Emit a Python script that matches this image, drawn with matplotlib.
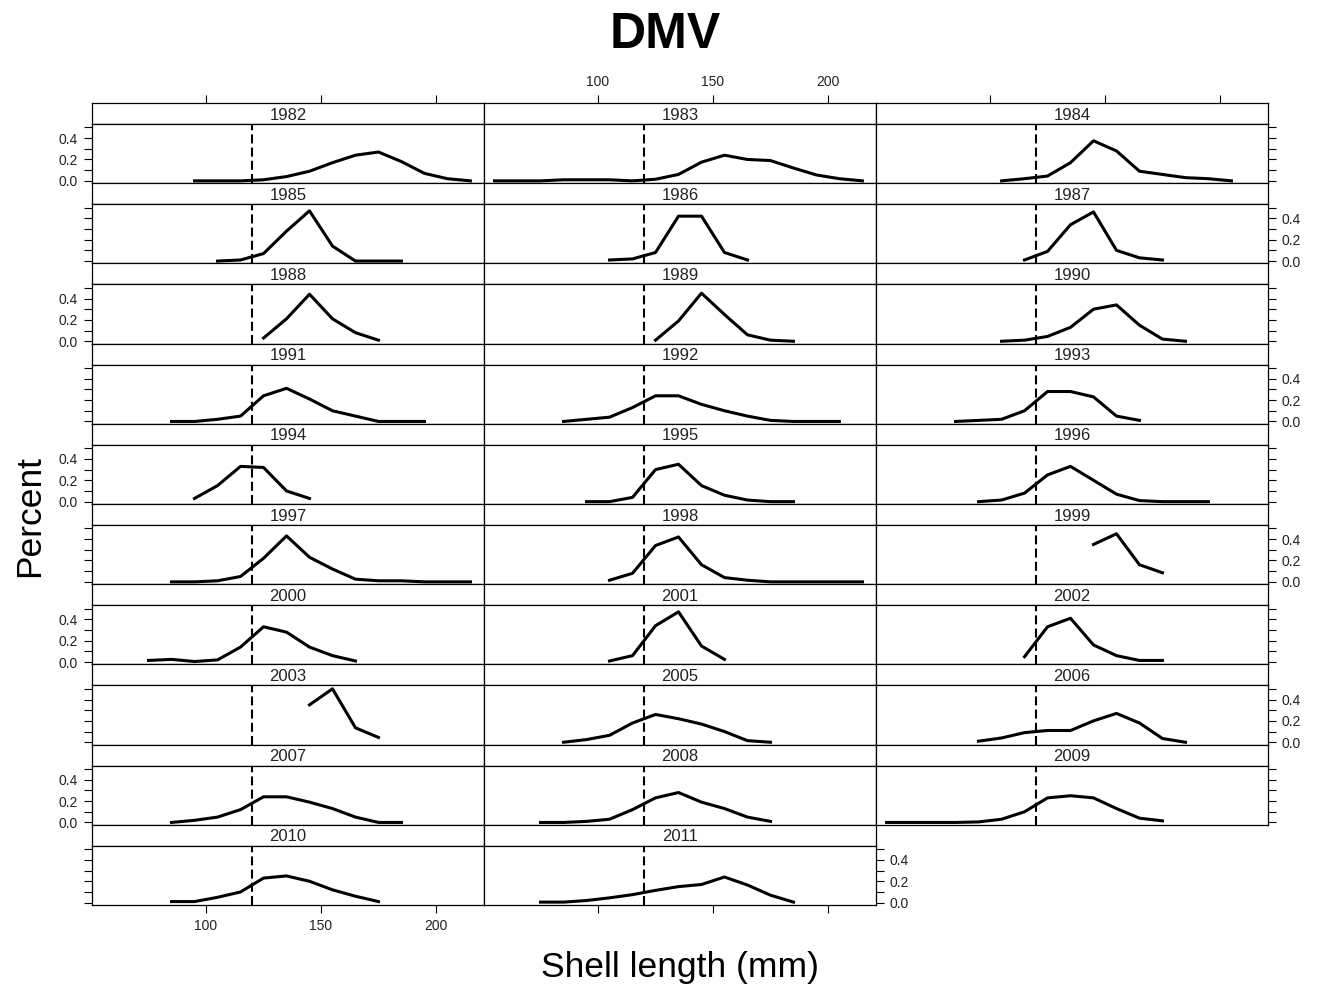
import matplotlib.pyplot as plt

plt.rcParams['font.family'] = ['Liberation Sans', 'DejaVu Sans']
plt.rcParams['lines.scale_dashes'] = False

# size-class midpoints (mm)
bins = [55, 65, 75, 85, 95, 105, 115, 125, 135, 145, 155, 165, 175, 185, 195, 205, 215]

# proportion of catch per size class, one list per survey year
p1982 = [0.0, 0.0, 0.0, 0.01, 0.04, 0.09, 0.17, 0.24, 0.27, 0.18, 0.07, 0.02, 0.0]
p1983 = [0.0, 0.0, 0.0, 0.01, 0.01, 0.01, 0.0, 0.015, 0.06, 0.175, 0.24, 0.2, 0.19, 0.12, 0.055, 0.02, 0.0]
p1984 = [0.0, 0.02, 0.045, 0.17, 0.375, 0.28, 0.09, 0.06, 0.03, 0.02, 0.0]
p1985 = [0.0, 0.01, 0.07, 0.28, 0.47, 0.14, 0.0, 0.0, 0.0]
p1986 = [0.01, 0.02, 0.08, 0.42, 0.42, 0.08, 0.01]
p1987 = [0.01, 0.09, 0.34, 0.46, 0.1, 0.03, 0.01]
p1988 = [0.03, 0.21, 0.44, 0.21, 0.08, 0.01]
p1989 = [0.01, 0.19, 0.45, 0.25, 0.06, 0.01, 0.0]
p1990 = [0.0, 0.01, 0.045, 0.13, 0.3, 0.34, 0.15, 0.02, 0.0]
p1991 = [0.0, 0.0, 0.02, 0.05, 0.24, 0.31, 0.21, 0.1, 0.05, 0.0, 0.0, 0.0]
p1992 = [0.0, 0.02, 0.04, 0.13, 0.24, 0.24, 0.16, 0.1, 0.05, 0.01, 0.0, 0.0, 0.0]
p1993 = [0.0, 0.01, 0.02, 0.1, 0.28, 0.28, 0.23, 0.05, 0.01]
p1994 = [0.03, 0.15, 0.33, 0.32, 0.1, 0.03]
p1995 = [0.0, 0.0, 0.04, 0.3, 0.35, 0.15, 0.06, 0.015, 0.0, 0.0]
p1996 = [0.0, 0.015, 0.08, 0.25, 0.33, 0.2, 0.07, 0.01, 0.0, 0.0, 0.0]
p1997 = [0.0, 0.0, 0.01, 0.05, 0.22, 0.43, 0.23, 0.12, 0.025, 0.01, 0.01, 0.0, 0.0, 0.0]
p1998 = [0.015, 0.08, 0.34, 0.42, 0.16, 0.04, 0.015, 0.0, 0.0, 0.0, 0.0, 0.0]
p1999 = [0.35, 0.45, 0.16, 0.085]
p2000 = [0.015, 0.025, 0.005, 0.02, 0.14, 0.33, 0.28, 0.14, 0.06, 0.01]
p2001 = [0.01, 0.06, 0.34, 0.47, 0.15, 0.025]
p2002 = [0.05, 0.33, 0.41, 0.16, 0.06, 0.015, 0.015]
p2003 = [0.35, 0.5, 0.135, 0.045]
p2005 = [0.0, 0.025, 0.065, 0.18, 0.26, 0.22, 0.17, 0.1, 0.015, 0.0]
p2006 = [0.01, 0.04, 0.09, 0.11, 0.11, 0.2, 0.27, 0.18, 0.035, 0.0]
p2007 = [0.0, 0.02, 0.05, 0.12, 0.24, 0.24, 0.19, 0.13, 0.05, 0.0, 0.0]
p2008 = [0.0, 0.0, 0.01, 0.03, 0.12, 0.23, 0.28, 0.19, 0.13, 0.05, 0.01]
p2009 = [0.0, 0.0, 0.0, 0.0, 0.005, 0.03, 0.1, 0.23, 0.25, 0.23, 0.13, 0.04, 0.015]
p2010 = [0.01, 0.01, 0.05, 0.1, 0.23, 0.25, 0.2, 0.12, 0.06, 0.01]
p2011 = [0.005, 0.005, 0.02, 0.045, 0.075, 0.115, 0.15, 0.17, 0.24, 0.165, 0.07, 0.005]

years = ['1982', '1983', '1984', '1985', '1986', '1987', '1988', '1989', '1990',
         '1991', '1992', '1993', '1994', '1995', '1996', '1997', '1998', '1999',
         '2000', '2001', '2002', '2003', '2005', '2006', '2007', '2008', '2009',
         '2010', '2011']
first_bin = [95, 55, 105, 105, 105, 115, 125, 125, 105,
             85, 85, 85, 95, 95, 95, 85, 105, 145,
             75, 105, 115, 145, 85, 95, 85, 75, 55,
             85, 75]
curves = [p1982, p1983, p1984, p1985, p1986, p1987, p1988, p1989, p1990,
          p1991, p1992, p1993, p1994, p1995, p1996, p1997, p1998, p1999,
          p2000, p2001, p2002, p2003, p2005, p2006, p2007, p2008, p2009,
          p2010, p2011]

min_size = 120          # dashed reference line
x_ticks = [100, 150, 200]
y_ticks = [0.0, 0.1, 0.2, 0.3, 0.4, 0.5]
y_labels = ['0.0', '', '0.2', '', '0.4', '']

# layout in pixels
W, H = 1325, 991
X0, Y0 = 92, 103
COLW, ROWH, STRIPH = 392, 80.2, 21
NCOL, NROW = 3, 10


def px_rect(x0, y0, w, h):
    return [x0 / W, 1 - (y0 + h) / H, w / W, h / H]


def frame(a):
    for s in a.spines.values():
        s.set_linewidth(0.9)
        s.set_color('black')


fig = plt.figure(figsize=(W / 100, H / 100), dpi=100)
tick_kw = dict(direction='out', length=6, width=0.8, labelsize=10, pad=4,
               color='black', labelcolor='#222222')

for i, yr in enumerate(years):
    r, c = divmod(i, NCOL)
    left = X0 + c * COLW
    top = Y0 + r * ROWH
    last_in_row = (c == NCOL - 1) or (i == len(years) - 1)

    # strip
    sax = fig.add_axes(px_rect(left, top, COLW, STRIPH))
    sax.set_xlim(50.4, 220.9)
    sax.set_ylim(0, 1)
    sax.set_yticks([])
    frame(sax)
    sax.text(0.5, 0.42, yr, transform=sax.transAxes, ha='center', va='center',
             fontsize=12, color='#222222')
    if r == 0:
        sax.xaxis.set_ticks_position('top')
        sax.set_xticks(x_ticks)
        sax.tick_params(axis='x', **tick_kw, labeltop=(c == 1))
        if c != 1:
            sax.set_xticklabels([])
    else:
        sax.set_xticks([])

    # panel
    ax = fig.add_axes(px_rect(left, top + STRIPH, COLW, ROWH - STRIPH))
    frame(ax)
    x = bins[bins.index(first_bin[i]):bins.index(first_bin[i]) + len(curves[i])]
    ax.plot(x, curves[i], color='black', lw=2.2)
    ax.axvline(min_size, color='black', lw=1.5, ls=(0, (6.5, 3.0)))
    ax.set_xlim(50.4, 220.9)
    ax.set_ylim(-0.022, 0.532)

    ax.set_yticks(y_ticks)
    ax.set_yticklabels(y_labels)
    ax.tick_params(axis='y', **tick_kw, left=(c == 0), right=last_in_row,
                   labelleft=(c == 0 and r % 2 == 0),
                   labelright=(last_in_row and r % 2 == 1))
    if r == NROW - 1:
        ax.set_xticks(x_ticks)
        ax.tick_params(axis='x', **tick_kw, labelbottom=(c == 0))
        if c != 0:
            ax.set_xticklabels([])
    else:
        ax.set_xticks([])

fig.text(665 / W, 1 - 35 / H, 'DMV', ha='center', va='center', fontsize=36, fontweight='bold')
fig.text(680 / W, 1 - 968 / H, 'Shell length (mm)', ha='center', va='center', fontsize=25.5)
fig.text(30 / W, 1 - 516 / H, 'Percent', ha='center', va='center', fontsize=25.5, rotation=90)

fig.savefig('out.png', dpi=100, facecolor='white')
